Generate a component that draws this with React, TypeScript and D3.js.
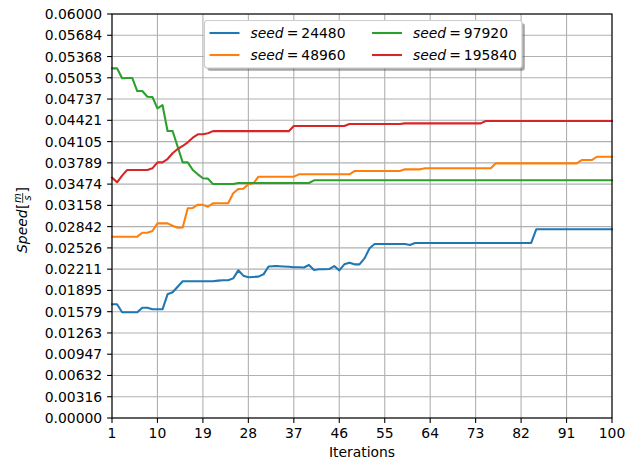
import React from "react";
import * as d3 from "d3";

const iterations: number[] = Array.from({ length: 100 }, (_, i) => i + 1);

const seed24480: number[] = [
  0.01689, 0.01689, 0.0157, 0.0157, 0.0157, 0.0157, 0.01638, 0.01638, 0.01614, 0.01614,
  0.01614, 0.01837, 0.01867, 0.0195, 0.0203, 0.0203, 0.0203, 0.0203, 0.0203, 0.0203,
  0.0203, 0.0204, 0.02045, 0.02045, 0.02074, 0.02193, 0.02114, 0.0209, 0.02095, 0.021,
  0.02134, 0.0225, 0.02255, 0.02255, 0.0225, 0.02245, 0.0224, 0.02238, 0.02236, 0.02272,
  0.02198, 0.0221, 0.0221, 0.02212, 0.02257, 0.02193, 0.02282, 0.02307, 0.02282, 0.02282,
  0.02371, 0.0252, 0.02584, 0.02584, 0.02584, 0.02584, 0.02584, 0.02584, 0.02584, 0.0257,
  0.026, 0.026, 0.026, 0.026, 0.026, 0.026, 0.026, 0.026, 0.026, 0.026,
  0.026, 0.026, 0.026, 0.026, 0.026, 0.026, 0.026, 0.026, 0.026, 0.026,
  0.026, 0.026, 0.026, 0.026, 0.02802, 0.02802, 0.02802, 0.02802, 0.02802, 0.02802,
  0.02802, 0.02802, 0.02802, 0.02802, 0.02802, 0.02802, 0.02802, 0.02802, 0.02802, 0.02802,
];

const seed48960: number[] = [
  0.02693, 0.02693, 0.02693, 0.02693, 0.02693, 0.02693, 0.02752, 0.02752, 0.02777, 0.02891,
  0.02891, 0.0289, 0.02856, 0.02826, 0.0283, 0.03114, 0.0312, 0.03168, 0.03165, 0.03138,
  0.03188, 0.0319, 0.0319, 0.0319, 0.03337, 0.03401, 0.03406, 0.03471, 0.03486, 0.03584,
  0.03584, 0.03584, 0.03584, 0.03584, 0.03584, 0.03584, 0.03584, 0.03619, 0.03619, 0.03619,
  0.03619, 0.03619, 0.03619, 0.03619, 0.03619, 0.03619, 0.03619, 0.03619, 0.03668, 0.03668,
  0.03668, 0.03668, 0.03668, 0.03668, 0.03668, 0.03668, 0.03668, 0.03668, 0.03693, 0.03693,
  0.03693, 0.03693, 0.03708, 0.03708, 0.03708, 0.03708, 0.03708, 0.03708, 0.03708, 0.03708,
  0.03708, 0.03708, 0.03708, 0.03708, 0.03708, 0.03708, 0.03782, 0.03782, 0.03782, 0.03782,
  0.03782, 0.03782, 0.03782, 0.03782, 0.03782, 0.03782, 0.03782, 0.03782, 0.03782, 0.03782,
  0.03782, 0.03782, 0.03782, 0.03831, 0.03831, 0.03831, 0.0388, 0.0388, 0.0388, 0.0388,
];

const seed97920: number[] = [
  0.05193, 0.05193, 0.05045, 0.0505, 0.0505, 0.04856, 0.04856, 0.04772, 0.04767, 0.04599,
  0.04648, 0.04262, 0.04262, 0.04029, 0.03797, 0.03797, 0.03683, 0.03619, 0.0356, 0.03555,
  0.03474, 0.03474, 0.03474, 0.03474, 0.03474, 0.0349, 0.0349, 0.0349, 0.0349, 0.0349,
  0.0349, 0.0349, 0.0349, 0.0349, 0.0349, 0.0349, 0.0349, 0.0349, 0.0349, 0.0349,
  0.0353, 0.0353, 0.0353, 0.0353, 0.0353, 0.0353, 0.0353, 0.0353, 0.0353, 0.0353,
  0.0353, 0.0353, 0.0353, 0.0353, 0.0353, 0.0353, 0.0353, 0.0353, 0.0353, 0.0353,
  0.0353, 0.0353, 0.0353, 0.0353, 0.0353, 0.0353, 0.0353, 0.0353, 0.0353, 0.0353,
  0.0353, 0.0353, 0.0353, 0.0353, 0.0353, 0.0353, 0.0353, 0.0353, 0.0353, 0.0353,
  0.0353, 0.0353, 0.0353, 0.0353, 0.0353, 0.0353, 0.0353, 0.0353, 0.0353, 0.0353,
  0.0353, 0.0353, 0.0353, 0.0353, 0.0353, 0.0353, 0.0353, 0.0353, 0.0353, 0.0353,
];

const seed195840: number[] = [
  0.0357, 0.035, 0.036, 0.03683, 0.03683, 0.03683, 0.03683, 0.03683, 0.03708, 0.03797,
  0.03797, 0.03846, 0.03931, 0.03995, 0.0404, 0.04094, 0.04163, 0.04213, 0.04213, 0.04228,
  0.0426, 0.0426, 0.0426, 0.0426, 0.0426, 0.0426, 0.0426, 0.0426, 0.0426, 0.0426,
  0.0426, 0.0426, 0.0426, 0.0426, 0.0426, 0.0426, 0.04336, 0.04336, 0.04336, 0.04336,
  0.04336, 0.04336, 0.04336, 0.04336, 0.04336, 0.04336, 0.04336, 0.04366, 0.04366, 0.04366,
  0.04366, 0.04366, 0.04366, 0.04366, 0.04366, 0.04366, 0.04366, 0.04366, 0.04376, 0.04376,
  0.04376, 0.04376, 0.04376, 0.04376, 0.04376, 0.04376, 0.04376, 0.04376, 0.04376, 0.04376,
  0.04376, 0.04376, 0.04376, 0.04376, 0.04411, 0.04411, 0.04411, 0.04411, 0.04411, 0.04411,
  0.04411, 0.04411, 0.04411, 0.04411, 0.04411, 0.04411, 0.04411, 0.04411, 0.04411, 0.04411,
  0.04411, 0.04411, 0.04411, 0.04411, 0.04411, 0.04411, 0.04411, 0.04411, 0.04411, 0.04411,
];

const seriesNames: string[] = ["24480", "48960", "97920", "195840"];
const seriesValues: number[][] = [seed24480, seed48960, seed97920, seed195840];
const seriesColors: string[] = ["#1f77b4", "#ff7f0e", "#2ca02c", "#d62728"];

const xTicks: number[] = [1, 10, 19, 28, 37, 46, 55, 64, 73, 82, 91, 100];
const yTickLabels: string[] = [
  "0.00000", "0.00316", "0.00632", "0.00947", "0.01263", "0.01579", "0.01895",
  "0.02211", "0.02526", "0.02842", "0.03158", "0.03474", "0.03789", "0.04105",
  "0.04421", "0.04737", "0.05053", "0.05368", "0.05684", "0.06000",
];
const yMax = 0.06;

const W = 640;
const H = 461;
const left = 112;
const right = 612;
const top = 14;
const bottom = 418;
const FONT = "DejaVu Sans, sans-serif";
const FS = 13.9;

export default function App() {
  const x = d3.scaleLinear().domain([1, 100]).range([left, right]);
  const y = d3.scaleLinear().domain([0, yMax]).range([bottom, top]);
  const yTicks = yTickLabels.map((_, k) => (k * yMax) / (yTickLabels.length - 1));
  const line = d3
    .line<number>()
    .x((_, i) => x(iterations[i]))
    .y((d) => y(d));

  // legend layout
  const lgX = 204.5;
  const lgY = 20.5;
  const lgW = 317.5;
  const lgH = 47.5;
  const rowY = [33, 55];
  const colX = [209.5, 372];

  return (
    <svg
      width={W}
      height={H}
      style={{ position: "absolute", left: 0, top: 0, background: "#fff" }}
      fontFamily={FONT}
    >
      <rect x={0} y={0} width={W} height={H} fill="#fff" />
      {/* grid */}
      <g stroke="#b0b0b0" strokeWidth={1.1}>
        {xTicks.map((t) => (
          <line key={"gx" + t} x1={x(t)} x2={x(t)} y1={top} y2={bottom} />
        ))}
        {yTicks.map((t, k) => (
          <line key={"gy" + k} x1={left} x2={right} y1={y(t)} y2={y(t)} />
        ))}
      </g>
      {/* lines */}
      <g fill="none" strokeWidth={2.08} strokeLinejoin="round" strokeLinecap="square">
        {seriesValues.map((vals, s) => (
          <path key={s} d={line(vals) || ""} stroke={seriesColors[s]} />
        ))}
      </g>
      {/* spines */}
      <rect x={left} y={top} width={right - left} height={bottom - top} fill="none" stroke="#000" strokeWidth={1.1} />
      {/* x ticks */}
      <g fontSize={FS} fill="#000">
        {xTicks.map((t) => (
          <g key={"xt" + t}>
            <line x1={x(t)} x2={x(t)} y1={bottom} y2={bottom + 4.9} stroke="#000" strokeWidth={1.1} />
            <text x={x(t)} y={bottom + 19.5} textAnchor="middle">
              {t}
            </text>
          </g>
        ))}
        {yTicks.map((t, k) => (
          <g key={"yt" + k}>
            <line x1={left - 4.9} x2={left} y1={y(t)} y2={y(t)} stroke="#000" strokeWidth={1.1} />
            <text x={left - 9.8} y={y(t) + 5} textAnchor="end">
              {yTickLabels[k]}
            </text>
          </g>
        ))}
        <text x={(left + right) / 2} y={457} textAnchor="middle">
          Iterations
        </text>
      </g>
      {/* y label with math */}
      <g transform="translate(27,253) rotate(-90)" fontSize={FS} fill="#000">
        <text x={0} y={0} fontStyle="italic">
          Speed
        </text>
        <text x={44} y={0}>[</text>
        <text x={55} y={-6} fontSize={9.7} fontStyle="italic" textAnchor="middle">
          m
        </text>
        <line x1={50} x2={60} y1={-4.3} y2={-4.3} stroke="#000" strokeWidth={0.8} />
        <text x={55} y={3.8} fontSize={9.7} fontStyle="italic" textAnchor="middle">
          s
        </text>
        <text x={60.5} y={0}>]</text>
      </g>
      {/* legend */}
      <rect x={lgX + 2.8} y={lgY + 2.8} width={lgW} height={lgH} rx={2.8} fill="#4d4d4d" opacity={0.5} />
      <rect x={lgX} y={lgY} width={lgW} height={lgH} rx={2.8} fill="#fff" stroke="#cccccc" strokeWidth={1.1} />
      {seriesNames.map((name, s) => {
        const col = Math.floor(s / 2);
        const row = s % 2;
        const lx = colX[col];
        const ly = rowY[row];
        return (
          <g key={"lg" + s}>
            <line x1={lx} x2={lx + 30} y1={ly} y2={ly} stroke={seriesColors[s]} strokeWidth={2.08} />
            <text x={lx + 41} y={ly + 5} fontSize={FS} fill="#000">
              <tspan fontStyle="italic">seed</tspan>
              <tspan dx={3}>=</tspan>
              <tspan dx={3}>{name}</tspan>
            </text>
          </g>
        );
      })}
    </svg>
  );
}
